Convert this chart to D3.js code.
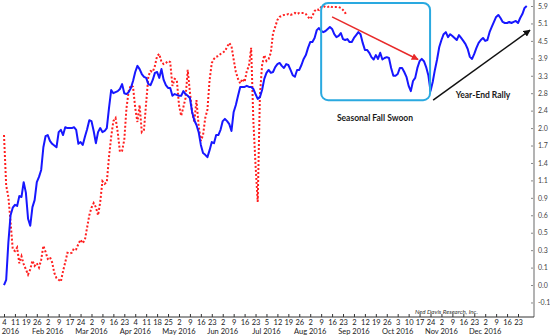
<!DOCTYPE html>
<html>
<head>
<meta charset="utf-8">
<script src="https://cdn.jsdelivr.net/npm/d3@7/dist/d3.min.js"></script>
<style>
  html, body { margin: 0; padding: 0; background: #fff; }
  svg { display: block; font-family: Lato, "Open Sans", sans-serif; }
</style>
</head>
<body>
<svg id="chart" width="550" height="336"></svg>
<script>
// Weekly tick labels along the trading-day axis (one tick every 5 trading days)
const tickLabels = ["4","11","19","26","2","9","17","24","2","9","16","23",
  "4","11","18","25","2","9","16","23","2","9","16","23",
  "5","12","19","26","2","9","16","23","2","12","19","26",
  "3","10","17","24","2","9","16","23","2","9","16","23"];
const monthLabels = ["Jan 2016","Feb 2016","Mar 2016","Apr 2016","May 2016","Jun 2016",
  "Jul 2016","Aug 2016","Sep 2016","Oct 2016","Nov 2016","Dec 2016"];
// Right-hand axis labels (log-style spacing, evenly placed)
const yTicks = [5.9,5.1,4.5,3.9,3.3,2.8,2.4,2.0,1.7,1.4,1.1,0.9,0.6,0.5,0.3,0.1,0.0,-0.1];

// Solid blue series, one value per trading day
const blueSeries = [
  0.00,0.03,0.39,0.60,0.73,0.78,0.76,0.92,0.91,1.08,0.96,0.58,0.54,0.74,0.86,1.08,1.16,1.28,1.67,1.86,
  1.88,1.78,1.73,1.70,1.67,1.93,1.97,1.88,2.02,2.00,2.00,2.00,2.02,1.97,1.73,1.76,1.71,1.85,1.98,2.18,
  2.16,1.95,1.74,1.93,2.00,1.93,1.95,2.00,2.46,2.89,2.80,2.83,2.86,2.92,3.06,2.80,2.78,2.83,2.95,3.15,
  3.43,3.64,3.53,3.36,3.27,3.24,3.06,3.03,3.18,3.40,3.43,3.24,3.53,3.18,3.03,2.95,2.95,2.74,2.78,2.76,
  2.74,2.74,2.86,2.78,2.74,2.69,2.37,2.18,2.07,1.93,1.71,1.57,1.54,1.50,1.62,1.76,1.74,1.88,1.88,1.97,
  2.16,2.21,2.16,2.09,1.95,2.37,2.53,2.74,2.98,2.98,2.98,3.01,2.98,2.98,2.92,2.78,2.67,2.71,2.89,3.21,
  3.40,3.50,3.40,3.43,3.60,3.70,3.74,3.64,3.57,3.70,3.67,3.50,3.32,3.27,3.50,3.50,3.67,3.88,4.01,4.26,
  4.46,4.46,4.60,4.87,4.94,4.84,4.80,4.84,4.91,4.98,4.91,4.73,4.63,4.67,4.77,4.56,4.53,4.56,4.46,4.46,
  4.60,4.70,4.80,4.73,4.43,4.19,4.19,4.09,3.94,3.86,4.01,3.88,4.09,3.86,3.91,3.94,3.91,3.57,3.30,3.30,
  3.36,3.57,3.57,3.43,3.27,3.01,2.86,3.15,3.24,3.57,3.80,3.88,3.80,3.60,3.32,2.86,3.12,3.50,3.86,4.29,
  4.53,4.73,4.80,4.63,4.73,4.67,4.60,4.53,4.70,4.60,4.50,4.39,4.22,3.95,3.88,4.05,4.26,4.43,4.53,4.60,
  4.50,4.53,4.80,4.98,5.17,5.40,5.49,5.35,5.17,5.12,5.12,5.17,5.12,5.17,5.21,5.12,5.35,5.53,5.81,5.90
];

// Dotted red series, one value per trading day
const redSeries = [
  1.88,1.04,0.91,0.56,0.31,0.29,0.33,0.15,0.23,0.14,0.09,0.06,0.09,0.18,0.12,0.15,0.10,0.19,0.35,0.28,
  0.20,0.22,0.16,0.07,0.04,0.03,0.02,0.08,0.16,0.27,0.26,0.27,0.32,0.31,0.37,0.42,0.38,0.42,0.53,0.60,
  0.73,0.81,0.74,0.60,0.83,1.09,1.06,1.08,1.50,1.85,2.16,2.23,1.93,1.59,1.61,1.80,2.46,2.86,3.03,2.98,
  2.46,2.14,2.53,1.93,1.97,2.58,3.29,3.46,3.43,3.64,3.98,4.05,3.77,3.70,3.74,3.81,3.77,3.01,3.21,3.18,
  2.53,2.28,2.48,2.69,3.50,2.83,2.37,2.14,2.64,2.05,1.78,1.88,2.23,2.42,3.18,3.74,3.88,3.95,3.98,4.05,
  4.09,4.15,4.29,4.43,4.32,3.86,3.43,3.21,3.08,3.21,3.12,3.46,3.64,4.26,2.18,1.37,0.83,2.75,3.67,4.01,
  3.81,3.88,4.09,4.77,4.98,5.26,5.40,5.44,5.49,5.49,5.53,5.49,5.53,5.58,5.53,5.58,5.58,5.58,5.53,5.40,
  5.30,5.44,5.67,5.76,5.72,5.85,5.90,5.85,5.85,5.90,5.85,5.85,5.85,5.85,5.81,5.72,5.58,5.62
];

// Annotations, in data units (trading day, axis value)
const swoonBox = { d0: 145, d1: 194.8, v0: 6.04, v1: 2.64 };
const swoonArrow = { from: [150, 5.40], to: [189.3, 3.86] };
const rallyArrow = { from: [196.2, 2.64], to: [240.5, 4.87] };
const swoonLabel = { text: "Seasonal Fall Swoon", at: [169.6, 2.23] };
const rallyLabel = { text: "Year-End Rally", at: [219, 2.76] };

const svg = d3.select("#chart");
const W = 550, H = 336;
const axisY = 317, axisX = 534;
const yTop = 6, yStep = 17.44;

const x = d3.scaleLinear().domain([0, 235]).range([4, 518]);
const y = d3.scaleLinear()
  .domain(yTicks)
  .range(yTicks.map((d, i) => yTop + i * yStep));

// Right axis
const yAxis = d3.axisRight(y)
  .tickValues(yTicks)
  .tickFormat(d => d < 0 ? "-" + Math.abs(d).toFixed(1) : d.toFixed(1))
  .tickSize(-3)
  .tickPadding(4);
const gy = svg.append("g").attr("transform", `translate(${axisX},0)`).call(yAxis);
gy.select(".domain").remove();
gy.selectAll(".tick line").attr("stroke", "#888");
gy.selectAll(".tick text").attr("font-size", 7).attr("fill", "#444")
  .attr("font-family", "Lato, sans-serif");
svg.append("line")
  .attr("x1", axisX).attr("x2", axisX).attr("y1", 0).attr("y2", axisY)
  .attr("stroke", "#b3b3b3").attr("stroke-width", 2);

// Bottom axis
const xAxis = d3.axisBottom(x)
  .tickValues(d3.range(0, tickLabels.length * 5, 5))
  .tickFormat((d, i) => tickLabels[i])
  .tickSize(-3)
  .tickPadding(3);
const gx = svg.append("g").attr("transform", `translate(0,${axisY})`).call(xAxis);
gx.select(".domain").remove();
gx.selectAll(".tick line").attr("stroke", "#333");
gx.selectAll(".tick text").attr("font-size", 7.5).attr("fill", "#222")
  .attr("font-family", "Lato, sans-serif");
svg.append("line")
  .attr("x1", 0).attr("x2", axisX).attr("y1", axisY).attr("y2", axisY)
  .attr("stroke", "#333").attr("stroke-width", 1);

svg.append("g").selectAll("text")
  .data(monthLabels)
  .join("text")
  .attr("x", (d, i) => x(i * 4 * 5))
  .attr("y", 334)
  .attr("text-anchor", "middle")
  .attr("font-size", 7.5)
  .attr("fill", "#222")
  .text(d => d);

// Series
const line = d3.line().x((d, i) => x(i)).y(d => y(d));
svg.append("path")
  .datum(redSeries)
  .attr("d", line)
  .attr("fill", "none")
  .attr("stroke", "#ff1f1f")
  .attr("stroke-width", 2)
  .attr("stroke-dasharray", "2,2");
svg.append("path")
  .datum(blueSeries)
  .attr("d", line)
  .attr("fill", "none")
  .attr("stroke", "#1717ff")
  .attr("stroke-width", 2)
  .attr("stroke-linejoin", "round");

// Annotations
const defs = svg.append("defs");
function marker(id, color) {
  defs.append("marker")
    .attr("id", id).attr("viewBox", "0 0 10 10")
    .attr("refX", 9).attr("refY", 5)
    .attr("markerWidth", 7).attr("markerHeight", 7)
    .attr("markerUnits", "userSpaceOnUse")
    .attr("orient", "auto")
    .append("path").attr("d", "M0,0 L10,5 L0,10 z").attr("fill", color);
}
marker("arrowRed", "#e82a2a");
marker("arrowBlack", "#111");

svg.append("rect")
  .attr("x", x(swoonBox.d0)).attr("y", y(swoonBox.v0))
  .attr("width", x(swoonBox.d1) - x(swoonBox.d0))
  .attr("height", y(swoonBox.v1) - y(swoonBox.v0))
  .attr("rx", 7).attr("ry", 7)
  .attr("fill", "none").attr("stroke", "#2aa9e0").attr("stroke-width", 2);

svg.append("line")
  .attr("x1", x(swoonArrow.from[0])).attr("y1", y(swoonArrow.from[1]))
  .attr("x2", x(swoonArrow.to[0])).attr("y2", y(swoonArrow.to[1]))
  .attr("stroke", "#e82a2a").attr("stroke-width", 1.5)
  .attr("marker-end", "url(#arrowRed)");

svg.append("line")
  .attr("x1", x(rallyArrow.from[0])).attr("y1", y(rallyArrow.from[1]))
  .attr("x2", x(rallyArrow.to[0])).attr("y2", y(rallyArrow.to[1]))
  .attr("stroke", "#111").attr("stroke-width", 1.5)
  .attr("marker-end", "url(#arrowBlack)");

[swoonLabel, rallyLabel].forEach(l => {
  svg.append("text")
    .attr("x", x(l.at[0])).attr("y", y(l.at[1]))
    .attr("dy", "0.35em")
    .attr("text-anchor", "middle")
    .attr("font-size", 8.5)
    .attr("font-weight", "bold")
    .attr("fill", "#1a1a1a")
    .text(l.text);
});

svg.append("text")
  .attr("x", 415).attr("y", 314)
  .attr("font-size", 6.2)
  .attr("font-style", "italic")
  .attr("fill", "#333")
  .text("Ned Davis Research, Inc.");
</script>
</body>
</html>
